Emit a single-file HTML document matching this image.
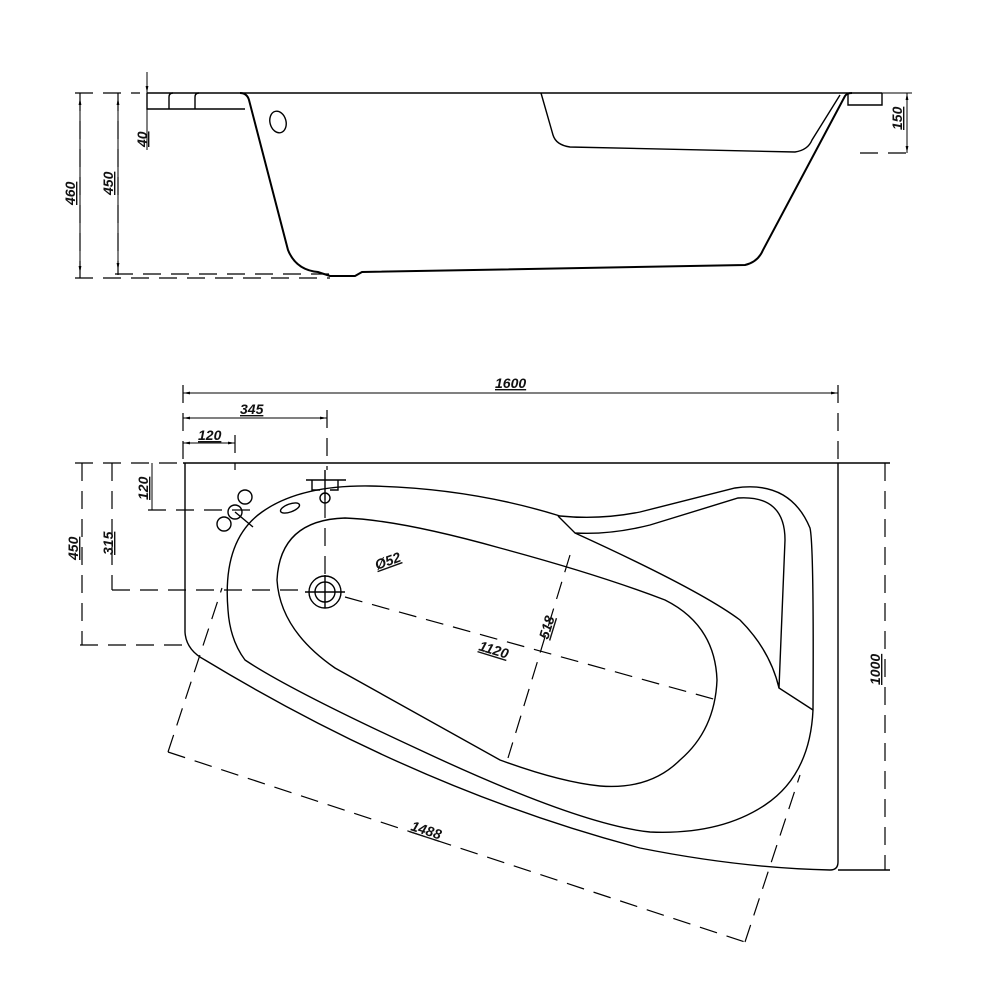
<!DOCTYPE html>
<html><head><style>
html,body{margin:0;padding:0;background:#fff;}
svg{display:block}
text{font-family:"Liberation Sans",sans-serif;font-size:14px;font-style:italic;font-weight:bold;fill:#111;text-decoration:underline}
</style></head><body>
<svg width="1000" height="1000" viewBox="0 0 1000 1000" xmlns="http://www.w3.org/2000/svg">
<defs>
<marker id="a" viewBox="0 0 10 10" refX="10" refY="5" markerWidth="7" markerHeight="7" orient="auto-start-reverse"><path d="M0,3 L10,5 L0,7 z" fill="#000"/></marker>
</defs>
<g fill="none" stroke="#000" stroke-width="1.4">
<line x1="147" y1="93" x2="882" y2="93"/>
<path d="M147,93 V109 H245"/>
<path d="M169,109 V97 Q169,93 173,93"/>
<path d="M195,109 V97 Q195,93 199,93"/>
<path d="M240,93 Q247,93 249,100 L288,250 Q296,270 318,272 L330,276 L355,276 L362,272 L745,265 Q758,262 763,250 L845,96 Q847,93 852,93" stroke-width="2"/>
<ellipse cx="278" cy="122" rx="8" ry="11" transform="rotate(-15 278 122)"/>
<path d="M541,93 L553,135 Q556,145 570,147 L795,152 Q808,150 812,140 L840,95"/>
<path d="M848,93 V105 H882 V93"/>
<g stroke-dasharray="18,10" stroke-width="1.2">
<line x1="75" y1="93" x2="140" y2="93"/>
<line x1="80" y1="93" x2="80" y2="278"/>
<line x1="118" y1="93" x2="118" y2="275"/>
<line x1="75" y1="278" x2="330" y2="278"/>
<line x1="115" y1="274" x2="330" y2="274"/>
<line x1="860" y1="153" x2="910" y2="153"/>
</g>
<line x1="80" y1="98" x2="80" y2="273" marker-start="url(#a)" marker-end="url(#a)" stroke-width="1"/>
<line x1="118" y1="98" x2="118" y2="270" marker-start="url(#a)" marker-end="url(#a)" stroke-width="1"/>
<line x1="147" y1="72" x2="147" y2="93" marker-end="url(#a)" stroke-width="1"/>
<line x1="147" y1="109" x2="147" y2="150" stroke-width="1"/>
<line x1="907" y1="93" x2="907" y2="153" marker-start="url(#a)" marker-end="url(#a)" stroke-width="1"/>
<line x1="882" y1="93" x2="912" y2="93" stroke-width="1"/>

<path d="M183,463 H890"/>
<path d="M185,463 V632 Q186,650 205,660 Q420,790 640,848 Q740,868 830,870 Q838,870 838,862 V463"/>
<line x1="838" y1="870" x2="890" y2="870"/>
<path d="M228,610 Q222,540 262,512 Q300,485 370,486 Q470,488 560,516 Q600,520 640,512 L735,488 Q790,480 810,528 Q814,545 813,710 Q810,775 765,805 Q720,835 650,832 Q580,825 420,750 Q290,690 245,660 Q230,640 228,610 Z"/>
<path d="M558,516 L575,533 Q610,535 650,525 L738,498 Q785,495 785,540 L779,688 L813,710"/>
<path d="M575,533 Q700,590 740,620 Q770,650 779,688"/>
<path d="M277,580 Q280,520 345,518 Q400,520 500,548 Q600,575 665,600 Q715,625 717,680 Q715,730 680,760 Q650,790 600,786 Q560,782 500,760 L335,668 Q280,630 277,580 Z"/>
<circle cx="325" cy="592" r="16"/><circle cx="325" cy="592" r="10"/>
<line x1="305" y1="592" x2="345" y2="592"/><line x1="325" y1="575" x2="325" y2="608"/>
<path d="M306,480 H346 M312,480 V490 H320 M338,480 V490 H330 M325,470 V500"/>
<circle cx="325" cy="498" r="5"/>
<ellipse cx="290" cy="508" rx="10" ry="4" transform="rotate(-20 290 508)"/>
<circle cx="245" cy="497" r="7"/><circle cx="224" cy="524" r="7"/>
<circle cx="235" cy="512" r="7"/><path d="M235,512 L253,527"/>
<g stroke-dasharray="18,10" stroke-width="1.2">
<line x1="183" y1="385" x2="183" y2="463"/>
<line x1="838" y1="385" x2="838" y2="463"/>
<line x1="327" y1="410" x2="327" y2="470"/>
<line x1="235" y1="435" x2="235" y2="470"/>
<line x1="75" y1="463" x2="183" y2="463"/>
<line x1="112" y1="463" x2="112" y2="590"/>
<line x1="148" y1="510" x2="260" y2="510"/>
<line x1="82" y1="463" x2="82" y2="645"/>
<line x1="80" y1="645" x2="185" y2="645"/>
<line x1="112" y1="590" x2="305" y2="590"/>
<line x1="885" y1="463" x2="885" y2="870"/>
<line x1="325" y1="500" x2="325" y2="575"/>
<line x1="345" y1="597" x2="717" y2="700"/>
<line x1="570" y1="555" x2="508" y2="758"/>
<line x1="168" y1="752" x2="745" y2="942"/>
<line x1="168" y1="752" x2="222" y2="588"/>
<line x1="745" y1="942" x2="800" y2="775"/>
</g>
<line x1="183" y1="393" x2="838" y2="393" marker-start="url(#a)" marker-end="url(#a)" stroke-width="1"/>
<line x1="183" y1="418" x2="327" y2="418" marker-start="url(#a)" marker-end="url(#a)" stroke-width="1"/>
<line x1="183" y1="443" x2="235" y2="443" marker-start="url(#a)" marker-end="url(#a)" stroke-width="1"/>
<line x1="152" y1="463" x2="152" y2="510" stroke-width="1"/>
</g>
<text x="495" y="388">1600</text>
<text x="240" y="414">345</text>
<text x="198" y="440">120</text>
<text x="377" y="570" transform="rotate(-20 377 570)">Ø52</text>
<text x="478" y="650" transform="rotate(17 478 650)">1120</text>
<text x="548" y="640" transform="rotate(-73 548 640)">518</text>
<text x="410" y="830" transform="rotate(18 410 830)">1488</text>
<g>
<text x="0" y="0" transform="translate(75,205) rotate(-90)">460</text>
<text x="0" y="0" transform="translate(113,195) rotate(-90)">450</text>
<text x="0" y="0" transform="translate(147,147) rotate(-90)">40</text>
<text x="0" y="0" transform="translate(902,130) rotate(-90)">150</text>
<text x="0" y="0" transform="translate(148,500) rotate(-90)">120</text>
<text x="0" y="0" transform="translate(113,555) rotate(-90)">315</text>
<text x="0" y="0" transform="translate(78,560) rotate(-90)">450</text>
<text x="0" y="0" transform="translate(880,685) rotate(-90)">1000</text>
</g>
</svg>
</body></html>
